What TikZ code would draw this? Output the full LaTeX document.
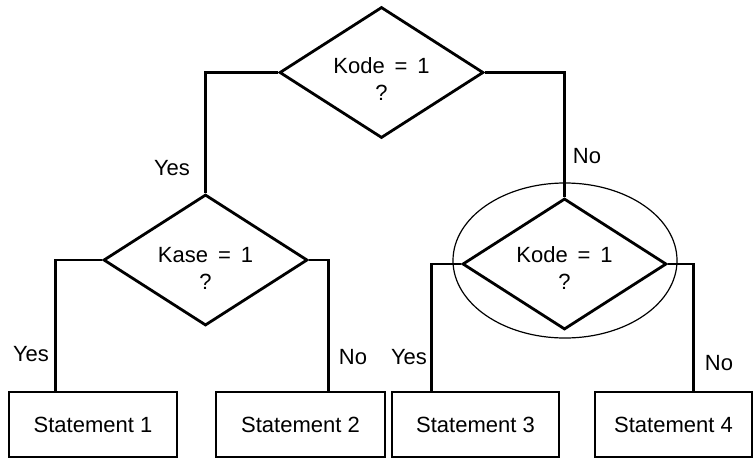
\documentclass[tikz,border=0pt]{standalone}
\usepackage{fontspec}
\setmainfont{Liberation Sans}
\usetikzlibrary{shapes.geometric,calc}
\newcommand{\eqsp}{\hspace{0.45em}=\hspace{0.45em}}
\begin{document}
\begin{tikzpicture}[x=1pt,y=-1pt,
  every node/.style={font=\fontsize{22}{27}\selectfont},
  decision/.style={diamond,draw,line width=2.8pt,minimum width=204pt,minimum height=131pt,inner sep=0pt},
  stmt/.style={rectangle,draw,line width=2.6pt,minimum height=65pt,inner sep=0pt},
  qtext/.style={align=center,inner sep=0pt},
  conn/.style={line width=2.8pt},
  lbl/.style={inner sep=0pt}]
\useasboundingbox (0,0) rectangle (754,460);
% decisions
\node[decision] (d1) at (381.5,72.5) {};
\node[decision] (d2) at (205.5,260) {};
\node[decision] (d3) at (564.5,264) {};
\node[qtext] (t1) at (381.5,79) {Kode\eqsp 1\\?};
\node[qtext] (t2) at (205.5,268) {Kase\eqsp 1\\?};
\node[qtext] (t3) at (564.5,268) {Kode\eqsp 1\\?};
% highlight ring
\node[ellipse,draw,line width=1.2pt,minimum width=224pt,minimum height=155pt,inner sep=0pt] (ring) at (565,260.5) {};
% statements
\node[stmt,minimum width=168pt] (s1) at (93,424.5) {Statement 1};
\node[stmt,minimum width=169pt] (s2) at (300.5,424.5) {Statement 2};
\node[stmt,minimum width=167pt] (s3) at (475.5,424.5) {Statement 3};
\node[stmt,minimum width=157pt] (s4) at (673.5,424.5) {Statement 4};
% connectors
\draw[conn] (d1.west) -| (d2.north);
\draw[conn] (d1.east) -| (d3.north);
\draw[conn] (d2.west) -| ($(s1.north west)+(48,0)$);
\draw[conn] (d2.east) -| ($(s2.north west)+(114,0)$);
\draw[conn] (d3.west) -| ($(s3.north west)+(41,0)$);
\draw[conn] (d3.east) -| ($(s4.north west)+(100,0)$);
% labels
\node[lbl] (y1) at (172,168) {Yes};
\node[lbl] (n1) at (587,156) {No};
\node[lbl] (y2) at (31,354) {Yes};
\node[lbl] (n2) at (353,357) {No};
\node[lbl] (y3) at (409,357) {Yes};
\node[lbl] (n3) at (719,363) {No};
\end{tikzpicture}
\end{document}
